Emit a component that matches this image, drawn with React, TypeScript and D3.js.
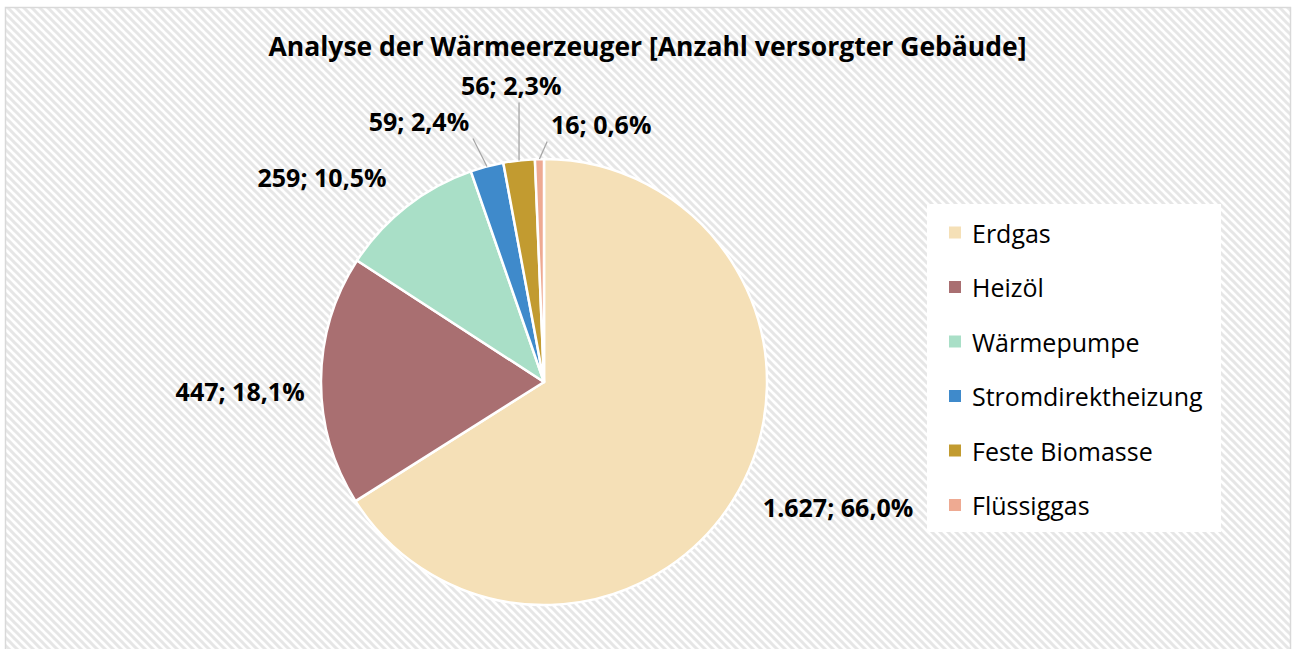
import React from "react";
import * as d3 from "d3";

const categories = ["Erdgas", "Heizöl", "Wärmepumpe", "Stromdirektheizung", "Feste Biomasse", "Flüssiggas"];
const values = [1627, 447, 259, 59, 56, 16];
const percentLabels = ["66,0%", "18,1%", "10,5%", "2,4%", "2,3%", "0,6%"];
const colors = ["#F5E0B7", "#A96F71", "#A9DFC7", "#3F8ACB", "#C29B30", "#EEAA92"];

// label placement (angle in degrees clockwise from top, distance from pie centre)
const labelAngles = [113, 268.3, 312.7, 334.4, 353.7, 12.5];
const labelDistances = [319.5, 304, 302, 289.4, 298.8, 264.2];
const hasLeader = [false, false, false, true, true, true];

const W = 1292;
const H = 649;
const FONT = "'Open Sans', 'Noto Sans', sans-serif";

export default function App() {
  const cx = 544;
  const cy = 382;
  const r = 223;

  const pie = d3.pie<number>().sort(null).value((d) => d).startAngle(0).endAngle(2 * Math.PI);
  const arcs = pie(values);
  const arc = d3.arc<d3.PieArcDatum<number>>().innerRadius(0).outerRadius(r);

  const fmt = (v: number) => d3.format(",")(v).replace(/,/g, ".");

  const polar = (angDeg: number, dist: number): [number, number] => {
    const a = (angDeg * Math.PI) / 180;
    return [cx + dist * Math.sin(a), cy - dist * Math.cos(a)];
  };

  const legendY = d3.scalePoint<string>().domain(categories).range([232.5, 505]);

  return (
    <svg
      width={W}
      height={H}
      style={{ position: "absolute", left: 0, top: 0, display: "block" }}
      fontFamily={FONT}
    >
      <defs>
        <pattern id="hatch" patternUnits="userSpaceOnUse" width={8} height={8}>
          <rect width={8} height={8} fill="#ffffff" />
          <path d="M-2,-2 L10,10 M-2,6 L2,10 M6,-2 L10,2" stroke="#e6e6e6" strokeWidth={3} />
        </pattern>
      </defs>
      <rect x={5.5} y={7.5} width={1285} height={660} fill="url(#hatch)" stroke="#d9d9d9" strokeWidth={1.5} />

      <text x={647.5} y={56} textAnchor="middle" fontSize={26.5} fontWeight="bold" fill="#000">
        Analyse der Wärmeerzeuger [Anzahl versorgter Gebäude]
      </text>

      <g transform={`translate(${cx},${cy})`}>
        {arcs.map((a, i) => (
          <path key={i} d={arc(a) || ""} fill={colors[i]} stroke="#ffffff" strokeWidth={2.5} strokeLinejoin="round" />
        ))}
      </g>

      {arcs.map((a, i) => {
        const [lx, ly] = polar(labelAngles[i], labelDistances[i]);
        const text = `${fmt(values[i])}; ${percentLabels[i]}`;
        const halfW = 51;
        const halfH = 8.5;
        let leader = null;
        if (hasLeader[i]) {
          const mid = ((a.startAngle + a.endAngle) / 2) * (180 / Math.PI);
          const [ax, ay] = polar(mid, r);
          const bx = Math.max(lx - halfW - 3, Math.min(lx + halfW + 3, ax));
          const by = Math.max(ly - halfH - 3, Math.min(ly + halfH + 9, ay));
          leader = <line x1={ax} y1={ay} x2={bx} y2={by} stroke="#a6a6a6" strokeWidth={1.3} />;
        }
        return (
          <g key={i}>
            {leader}
            <text x={lx} y={ly} textAnchor="middle" dominantBaseline="central" fontSize={25} fontWeight="bold" fill="#000">
              {text}
            </text>
          </g>
        );
      })}

      <rect x={927} y={204} width={294} height={328} fill="#ffffff" />
      {categories.map((c, i) => (
        <g key={c} transform={`translate(0,${legendY(c)})`}>
          <rect x={949} y={-6} width={12} height={12} fill={colors[i]} />
          <text x={972} y={0} dominantBaseline="central" fontSize={25} fill="#000">
            {c}
          </text>
        </g>
      ))}
    </svg>
  );
}
